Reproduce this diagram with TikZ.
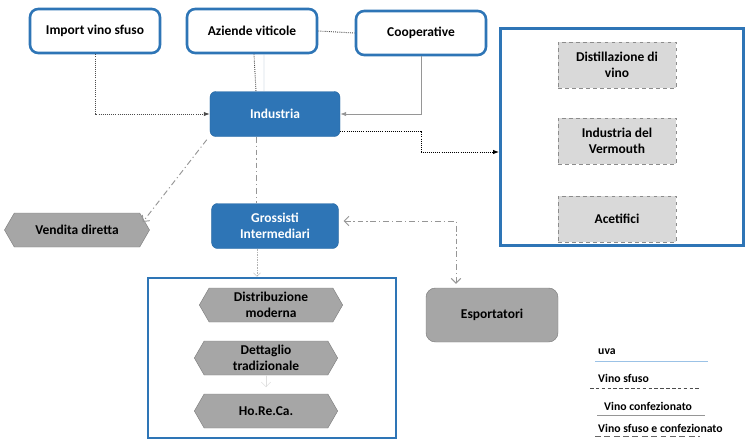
\documentclass[tikz,border=0pt]{standalone}
\usepackage{fontspec}
\setmainfont{Carlito}
\usetikzlibrary{shapes.symbols,arrows.meta}
\definecolor{boxblue}{RGB}{46,117,182}
\definecolor{linegray}{RGB}{150,150,150}
\definecolor{hexgray}{RGB}{166,166,166}
\definecolor{lightfill}{RGB}{217,217,217}
\definecolor{uvablue}{RGB}{155,194,230}
\tikzset{
  txt/.style={font=\fontsize{11.5}{14}\selectfont\bfseries, align=center},
  source/.style={txt, draw=boxblue, line width=2.2pt, rounded corners=7pt, fill=white, minimum width=3.9cm, minimum height=1.32cm},
  actor/.style={txt, draw=boxblue!90!black, fill=boxblue, text=white, rounded corners=5pt, minimum width=3.9cm, minimum height=1.35cm},
  user/.style={txt, draw=black!45, dashed, fill=lightfill, minimum width=3.54cm, minimum height=1.38cm},
  hexa/.style={txt, signal, signal to=west and east, signal pointer angle=120, draw=gray, fill=hexgray, minimum width=4.3cm, minimum height=1.02cm, inner sep=1pt},
  frame/.style={draw=boxblue, line width=2.2pt},
  sfuso/.style={densely dotted, black!70, thick},
  conf/.style={linegray, thick},
  mix/.style={dash pattern=on 5pt off 2.5pt on 1pt off 2.5pt, linegray, thick},
  legtxt/.style={font=\fontsize{10}{12}\selectfont\bfseries, anchor=west, inner sep=0pt}
}
\begin{document}
\begin{tikzpicture}[x=0.03cm, y=-0.03cm]
\useasboundingbox (0,0) rectangle (747,442);

\node[frame, minimum width=7.3cm, minimum height=6.5cm] at (622,137) (dest){}; % industrie di trasformazione
\node[frame, minimum width=7.45cm, minimum height=4.8cm] at (272,358) (dist){}; % distribuzione

\node[source] at (95,31) (imp){Import vino sfuso};
\node[source] at (252,31) (azi){Aziende viticole};
\node[source] at (421,33) (coo){Cooperative};
\node[actor] at (275,114) (ind){Industria};
\node[actor, minimum width=3.8cm] at (275,226) (gro){Grossisti\\Intermediari};

\node[user] at (617,65) (dis){Distillazione di\\vino};
\node[user] at (617,141) (ver){Industria del\\Vermouth};
\node[user] at (617,219) (ace){Acetifici};

\node[hexa, minimum width=4.35cm] at (77,230) (ven){Vendita diretta};
\node[hexa] at (271,305) (gdo){Distribuzione\\moderna};
\node[hexa] at (266,358) (det){Dettaglio\\tradizionale};
\node[hexa] at (266,411) (hor){Ho.Re.Ca.};
\node[txt, draw=gray, fill=hexgray, rounded corners=8pt, minimum width=3.96cm, minimum height=1.62cm] at (492,315) (esp){Esportatori};

\draw[sfuso, -{Latex[length=5pt]}] (imp.south) |- (ind.west); % vino sfuso
\draw[sfuso] ([xshift=0.06cm]azi.south) -- ([xshift=-0.57cm]ind.north);
\draw[uvablue!60!gray] ([xshift=0.36cm]azi.south) -- ([xshift=-0.33cm]ind.north); % uva
\draw[sfuso] (azi.east) -- (coo.west);
\draw[conf, -{Latex[length=5pt]}] (coo.south) |- (ind.east);
\draw[sfuso, black, -{Latex[length=5pt]}] ([yshift=-0.51cm]ind.east) -- ++(81,0) |- ([yshift=-0.45cm]dest.west);

\draw[mix] ([xshift=-0.57cm]ind.south) -- ([xshift=-0.57cm]gro.north); % vino sfuso e confezionato
\draw[mix, -{Straight Barb[length=4pt]}] ([shift={(-3,3)}]ind.south west) -- ([shift={(-7,-8)}]ven.east);
\draw[mix, {Straight Barb[length=4pt]}-{Straight Barb[length=4pt]}] ([shift={(5,-5)}]gro.east) -| ([shift={(-36,-4)}]esp.north);
\draw[gray!60, densely dotted, -{Straight Barb[length=3pt]}] ([shift={(-18,0)}]gro.south) -- ([shift={(-15,0)}]dist.north);
\draw[gray!25, -{Straight Barb[length=4pt]}] (det.south) -- ([yshift=0.2cm]hor.north);

% legenda
\node[legtxt] at (598,352) (luva){uva};
\node[legtxt] at (598,378) (lsfu){Vino sfuso};
\node[legtxt] at (604,406) (lcon){Vino confezionato};
\node[legtxt] at (598,428) (lmix){Vino sfuso e confezionato};
\draw[uvablue] ([shift={(-3,6)}]luva.south west) -- ++(113,0);
\draw[densely dashed, black!70] ([shift={(-8,6)}]lsfu.south west) -- ++(110,0);
\draw[conf] ([shift={(-7,5)}]lcon.south west) -- ++(108,0);
\draw[dash pattern=on 5pt off 3pt, black!60, line width=1.5pt] ([shift={(-3,4)}]lmix.south west) -- ++(105,0);

\end{tikzpicture}
\end{document}
